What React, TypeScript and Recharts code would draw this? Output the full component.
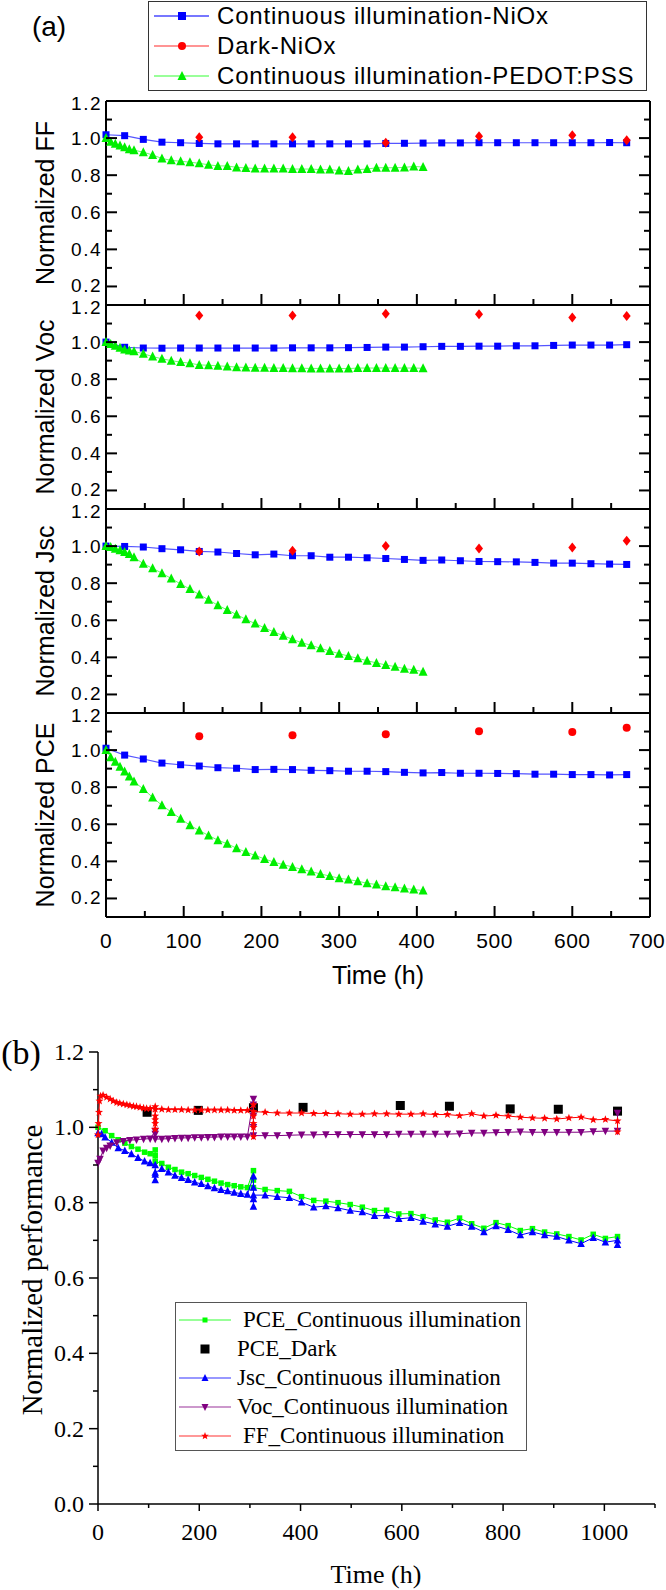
import React from "react";
import { ScatterChart, Scatter, XAxis, YAxis } from "recharts";

// ---------- panel (a) ----------
const niOxTime = [0, 24, 48, 72, 96, 120, 144, 168, 192, 216, 240, 264, 288, 312, 336, 360, 384, 408, 432, 456, 480, 504, 528, 552, 576, 600, 624, 648, 670];
const darkTime = [120, 240, 360, 480, 600, 670];
const pedotTime = [0, 6, 12, 18, 24, 30, 36, 48, 60, 72, 84, 96, 108, 120, 132, 144, 156, 168, 180, 192, 204, 216, 228, 240, 252, 264, 276, 288, 300, 312, 324, 336, 348, 360, 372, 384, 396, 408];

const ffNiOx = [1.018, 1.013, 0.993, 0.978, 0.975, 0.971, 0.969, 0.969, 0.969, 0.969, 0.969, 0.969, 0.969, 0.969, 0.969, 0.971, 0.972, 0.973, 0.974, 0.974, 0.975, 0.975, 0.975, 0.975, 0.975, 0.975, 0.975, 0.976, 0.975];
const vocNiOx = [1.0, 0.972, 0.968, 0.967, 0.968, 0.968, 0.968, 0.968, 0.968, 0.968, 0.969, 0.969, 0.969, 0.97, 0.971, 0.973, 0.973, 0.975, 0.977, 0.977, 0.978, 0.978, 0.98, 0.98, 0.982, 0.984, 0.984, 0.984, 0.986];
const jscNiOx = [1.0, 0.998, 0.995, 0.986, 0.98, 0.971, 0.968, 0.96, 0.953, 0.957, 0.948, 0.948, 0.94, 0.94, 0.937, 0.933, 0.928, 0.923, 0.925, 0.921, 0.917, 0.916, 0.915, 0.912, 0.908, 0.908, 0.905, 0.903, 0.901];
const pceNiOx = [1.01, 0.973, 0.952, 0.93, 0.921, 0.914, 0.905, 0.902, 0.895, 0.896, 0.895, 0.891, 0.889, 0.886, 0.886, 0.884, 0.88, 0.877, 0.879, 0.875, 0.875, 0.874, 0.873, 0.87, 0.87, 0.868, 0.868, 0.866, 0.868];

const ffDark = [1.005, 1.005, 0.975, 1.01, 1.015, 0.988];
const vocDark = [1.144, 1.144, 1.153, 1.15, 1.132, 1.141];
const jscDark = [0.971, 0.975, 1.0, 0.987, 0.993, 1.029];
const pceDark = [1.075, 1.08, 1.086, 1.102, 1.098, 1.12];

const ffPedot = [1.0, 0.98, 0.97, 0.96, 0.95, 0.94, 0.935, 0.924, 0.909, 0.89, 0.88, 0.875, 0.87, 0.864, 0.856, 0.85, 0.85, 0.842, 0.839, 0.836, 0.836, 0.836, 0.836, 0.833, 0.833, 0.833, 0.83, 0.83, 0.825, 0.822, 0.83, 0.833, 0.84, 0.84, 0.84, 0.842, 0.847, 0.844];
const vocPedot = [1.0, 0.99, 0.98, 0.97, 0.96, 0.955, 0.95, 0.937, 0.922, 0.91, 0.9, 0.892, 0.886, 0.877, 0.875, 0.872, 0.869, 0.865, 0.863, 0.862, 0.861, 0.86, 0.86, 0.859, 0.859, 0.858, 0.858, 0.858, 0.858, 0.857, 0.86, 0.86, 0.86, 0.86, 0.86, 0.86, 0.86, 0.859];
const jscPedot = [1.0, 0.995, 0.985, 0.977, 0.968, 0.958, 0.94, 0.905, 0.88, 0.854, 0.825, 0.796, 0.768, 0.739, 0.71, 0.681, 0.656, 0.631, 0.605, 0.582, 0.559, 0.537, 0.517, 0.497, 0.479, 0.465, 0.449, 0.434, 0.42, 0.407, 0.395, 0.382, 0.37, 0.359, 0.35, 0.339, 0.333, 0.323];
const pcePedot = [1.0, 0.962, 0.937, 0.91, 0.884, 0.858, 0.83, 0.79, 0.745, 0.702, 0.666, 0.63, 0.595, 0.566, 0.54, 0.514, 0.495, 0.471, 0.45, 0.432, 0.413, 0.396, 0.382, 0.37, 0.357, 0.345, 0.332, 0.321, 0.309, 0.302, 0.293, 0.282, 0.275, 0.266, 0.261, 0.254, 0.248, 0.243];

const aXTicks = [0, 50, 100, 150, 200, 250, 300, 350, 400, 450, 500, 550, 600, 650, 700];
const aYTicks = [0.2, 0.3, 0.4, 0.5, 0.6, 0.7, 0.8, 0.9, 1.0, 1.1, 1.2];
const panelNames = ["FF", "Voc", "Jsc", "PCE"];

// ---------- panel (b) ----------
const bSpikeTime = [113, 307];
const bEndTime = 1026;
const bMidTime = [126, 139, 152, 165, 178, 191, 204, 217, 230, 243, 256, 269, 282, 295];
const bLateTime = [330, 354, 378, 402, 426, 450, 474, 498, 522, 546, 570, 594, 618, 642, 666, 690, 714, 738, 762, 786, 810, 834, 858, 882, 906, 930, 954, 978, 1002, 1026];

const pceEarlyTime = [0, 14, 27, 40, 53, 66, 79, 92, 103];
const pceEarly = [1.0, 0.991, 0.978, 0.967, 0.958, 0.949, 0.942, 0.934, 0.93];
const pceSpike1 = [0.94, 0.925, 0.91];
const pceMid = [0.904, 0.894, 0.888, 0.881, 0.877, 0.872, 0.867, 0.862, 0.857, 0.852, 0.848, 0.845, 0.842, 0.84];
const pceSpike2 = [0.885, 0.86, 0.84];
const pceLate = [0.835, 0.832, 0.83, 0.816, 0.806, 0.804, 0.8, 0.795, 0.788, 0.779, 0.78, 0.77, 0.771, 0.763, 0.754, 0.748, 0.759, 0.744, 0.732, 0.747, 0.739, 0.726, 0.731, 0.722, 0.717, 0.71, 0.701, 0.716, 0.705, 0.71];
const pceTail: number[] = [];

const jscEarlyTime = [0, 7, 14, 27, 40, 53, 66, 79, 92, 103];
const jscEarly = [0.985, 0.982, 0.974, 0.96, 0.945, 0.938, 0.929, 0.919, 0.91, 0.905];
const jscSpike1 = [0.9, 0.875, 0.86, 0.88];
const jscMid = [0.89, 0.881, 0.872, 0.866, 0.861, 0.854, 0.85, 0.844, 0.839, 0.834, 0.831, 0.827, 0.824, 0.822];
const jscSpike2 = [0.87, 0.84, 0.81, 0.79, 0.82];
const jscLate = [0.82, 0.816, 0.813, 0.801, 0.788, 0.791, 0.786, 0.779, 0.775, 0.765, 0.766, 0.757, 0.76, 0.75, 0.743, 0.737, 0.747, 0.737, 0.722, 0.738, 0.728, 0.714, 0.722, 0.714, 0.71, 0.7, 0.691, 0.707, 0.695, 0.7];
const jscTail = [0.688];

const vocEarlyTime = [0, 4, 10, 17, 24, 37, 50, 63, 76, 90, 103];
const vocEarly = [0.905, 0.916, 0.938, 0.945, 0.951, 0.96, 0.963, 0.966, 0.967, 0.969, 0.97];
const vocSpike1 = [0.99, 0.982, 0.969];
const vocMid = [0.969, 0.97, 0.971, 0.972, 0.972, 0.973, 0.973, 0.974, 0.974, 0.975, 0.975, 0.975, 0.975, 0.975];
const vocSpike2 = [1.075, 1.06, 1.03, 1.0, 0.978];
const vocLate = [0.978, 0.978, 0.979, 0.98, 0.98, 0.981, 0.981, 0.981, 0.981, 0.981, 0.981, 0.982, 0.982, 0.982, 0.982, 0.982, 0.983, 0.985, 0.985, 0.986, 0.987, 0.988, 0.987, 0.987, 0.987, 0.987, 0.987, 0.989, 0.99, 0.99];
const vocTail = [1.038];

const ffEarlyTime = [0, 1, 2, 3, 5, 10, 17, 24, 30, 37, 43, 50, 57, 63, 70, 76, 83, 90, 96, 103];
const ffEarly = [0.98, 1.01, 1.04, 1.07, 1.083, 1.085, 1.08, 1.075, 1.07, 1.066, 1.064, 1.062, 1.06, 1.058, 1.056, 1.055, 1.053, 1.051, 1.05, 1.05];
const ffSpike1 = [1.055, 1.03, 1.01, 0.995, 1.02, 1.048];
const ffMid = [1.048, 1.047, 1.047, 1.047, 1.046, 1.046, 1.046, 1.046, 1.046, 1.046, 1.046, 1.045, 1.045, 1.045];
const ffSpike2 = [1.06, 1.03, 1.0, 0.975, 1.01, 1.042];
const ffLate = [1.04, 1.038, 1.038, 1.038, 1.037, 1.037, 1.036, 1.035, 1.035, 1.036, 1.036, 1.035, 1.035, 1.036, 1.034, 1.034, 1.031, 1.036, 1.03, 1.032, 1.03, 1.027, 1.025, 1.024, 1.022, 1.025, 1.027, 1.02, 1.021, 1.017];
const ffTail = [0.988];

const darkTimeB = [97, 198, 307, 405, 597, 694, 814, 909, 1026];
const pceDarkB = [1.04, 1.045, 1.052, 1.053, 1.058, 1.056, 1.049, 1.048, 1.043];

const bXTicks = [0, 100, 200, 300, 400, 500, 600, 700, 800, 900, 1000, 1100];
const bYTicks = [0, 0.1, 0.2, 0.3, 0.4, 0.5, 0.6, 0.7, 0.8, 0.9, 1.0, 1.1, 1.2];

// ---------- helpers ----------
const SANS = "'Liberation Sans', Arial, sans-serif";
const SERIF = "'Liberation Serif', 'Times New Roman', serif";

type Pt = { t: number; v: number };
const zip = (ts: number[], vs: number[]): Pt[] => ts.map((t, i) => ({ t, v: vs[i] }));

function buildB(earlyT: number[], early: number[], s1: number[], mid: number[], s2: number[], late: number[], tail: number[]): Pt[] {
  return [
    ...zip(earlyT, early),
    ...s1.map((v) => ({ t: bSpikeTime[0], v })),
    ...zip(bMidTime, mid),
    ...s2.map((v) => ({ t: bSpikeTime[1], v })),
    ...zip(bLateTime, late),
    ...tail.map((v) => ({ t: bEndTime, v })),
  ];
}

function starPoints(cx: number, cy: number, r: number) {
  const pts: string[] = [];
  for (let i = 0; i < 10; i++) {
    const rr = i % 2 === 0 ? r : r * 0.42;
    const a = -Math.PI / 2 + (i * Math.PI) / 5;
    pts.push(`${cx + rr * Math.cos(a)},${cy + rr * Math.sin(a)}`);
  }
  return pts.join(" ");
}

function Mark({ kind, cx, cy, size, fill }: { kind: string; cx: number; cy: number; size: number; fill: string }) {
  const h = size / 2;
  if (cx == null || cy == null) return null;
  switch (kind) {
    case "square":
      return <rect x={cx - h} y={cy - h} width={size} height={size} fill={fill} />;
    case "circle":
      return <circle cx={cx} cy={cy} r={h} fill={fill} />;
    case "diamond":
      return <polygon points={`${cx},${cy - h - 1} ${cx + h},${cy} ${cx},${cy + h + 1} ${cx - h},${cy}`} fill={fill} />;
    case "up":
      return <polygon points={`${cx},${cy - h - 1} ${cx + h + 0.5},${cy + h} ${cx - h - 0.5},${cy + h}`} fill={fill} />;
    case "down":
      return <polygon points={`${cx},${cy + h + 1} ${cx + h + 0.5},${cy - h} ${cx - h - 0.5},${cy - h}`} fill={fill} />;
    case "star":
      return <polygon points={starPoints(cx, cy, h + 0.5)} fill={fill} />;
    default:
      return null;
  }
}

const shapeOf = (kind: string, size: number, fill: string) => (p: any) => (
  <Mark kind={kind} cx={p.cx} cy={p.cy} size={size} fill={fill} />
);

function Txt({ x, y, size, family, rotate, children }: any) {
  return (
    <div
      style={{
        position: "absolute",
        left: x,
        top: y,
        transform: `translate(-50%, -50%)${rotate ? " rotate(-90deg)" : ""}`,
        fontSize: size,
        fontFamily: family,
        whiteSpace: "nowrap",
        lineHeight: 1,
        color: "#000",
      }}
    >
      {children}
    </div>
  );
}

// ---------- panel (a) ticks ----------
const isEven = (v: number) => Math.round(v * 10) % 2 === 0;

function LeftTickA(p: any) {
  const v = p.payload.value;
  const major = isEven(v);
  const x0 = p.x + 4;
  // the top and bottom labels sit on the panel joins, nudge them apart
  const shift = v > 1.15 ? 2.5 : v < 0.25 ? -1 : 0;
  return (
    <g>
      <line x1={x0} x2={x0 + (major ? 11 : 6)} y1={p.y} y2={p.y} stroke="#000" strokeWidth={2} />
      {major && (
        <text x={p.x} y={p.y + shift} dy="0.36em" textAnchor="end" fontSize={19} letterSpacing={1.5} fontFamily={SANS} fill="#000">
          {v.toFixed(1)}
        </text>
      )}
    </g>
  );
}

function RightTickA(p: any) {
  const major = isEven(p.payload.value);
  return <line x1={p.x - (major ? 11 : 6)} x2={p.x} y1={p.y} y2={p.y} stroke="#000" strokeWidth={2} />;
}

function BottomTickA(p: any, showLabel: boolean) {
  const v = p.payload.value;
  const major = v % 100 === 0;
  return (
    <g>
      <line x1={p.x} x2={p.x} y1={p.y - (major ? 11 : 6)} y2={p.y} stroke="#000" strokeWidth={2} />
      {showLabel && major && (
        <text x={v === 700 ? p.x - 3 : p.x} y={p.y + 23} dy="0.36em" textAnchor="middle" fontSize={21} letterSpacing={0.5} fontFamily={SANS} fill="#000">
          {v}
        </text>
      )}
    </g>
  );
}

// ---------- panel (b) ticks ----------
function LeftTickB(p: any) {
  const v = p.payload.value;
  const major = isEven(v);
  return (
    <g>
      <line x1={p.x - (major ? 9 : 5)} x2={p.x} y1={p.y} y2={p.y} stroke="#000" strokeWidth={1.5} />
      {major && (
        <text x={p.x - 14} y={p.y} dy="0.34em" textAnchor="end" fontSize={24} fontFamily={SERIF} fill="#000">
          {v.toFixed(1)}
        </text>
      )}
    </g>
  );
}

function BottomTickB(p: any) {
  const v = p.payload.value;
  const major = v % 200 === 0;
  return (
    <g>
      <line x1={p.x} x2={p.x} y1={p.y} y2={p.y + (major ? 7 : 4)} stroke="#000" strokeWidth={1.5} />
      {major && (
        <text x={p.x} y={p.y + 28} dy="0.34em" textAnchor="middle" fontSize={24} fontFamily={SERIF} fill="#000">
          {v}
        </text>
      )}
    </g>
  );
}

const AX = { stroke: "#000", strokeWidth: 2 };
const A_TOP = 101;
const A_H = 204;

function PanelA({ idx, ni, dark, pedot, darkKind }: { idx: number; ni: number[]; dark: number[]; pedot: number[]; darkKind: string }) {
  const last = idx === 3;
  const padTop = 14;
  const xH = last ? 60 : 1;
  const padBottom = last ? 10 : 13;
  const h = padTop + A_H + xH + padBottom;
  const top = A_TOP + idx * A_H - padTop;
  return (
    <div style={{ position: "absolute", left: 0, top }}>
      <ScatterChart width={666} height={h} margin={{ top: padTop - 1, right: 0, bottom: padBottom, left: 0 }}>
        <XAxis
          xAxisId="x"
          dataKey="t"
          type="number"
          domain={[0, 700]}
          ticks={aXTicks}
          interval={0}
          height={xH}
          tickSize={0}
          tickMargin={0}
          tickLine={false}
          axisLine={AX}
          tick={(p: any) => BottomTickA(p, last)}
        />
        <XAxis xAxisId="top" dataKey="t" orientation="top" type="number" domain={[0, 700]} ticks={[0, 700]} height={1} tick={false} tickLine={false} axisLine={AX} />
        <YAxis
          yAxisId="y"
          dataKey="v"
          type="number"
          domain={[0.1, 1.2]}
          ticks={aYTicks}
          interval={0}
          width={106}
          tickSize={0}
          tickMargin={4}
          tickLine={false}
          axisLine={AX}
          tick={LeftTickA}
        />
        <YAxis
          yAxisId="r"
          dataKey="v"
          orientation="right"
          type="number"
          domain={[0.1, 1.2]}
          ticks={aYTicks}
          interval={0}
          width={16}
          tickSize={0}
          tickMargin={0}
          tickLine={false}
          axisLine={AX}
          tick={RightTickA}
        />
        <Scatter
          xAxisId="x"
          yAxisId="y"
          data={zip(niOxTime, ni)}
          fill="#0000ff"
          line={{ stroke: "#5555ff", strokeWidth: 1.2 }}
          shape={shapeOf("square", 7, "#0000ff")}
          isAnimationActive={false}
        />
        <Scatter xAxisId="top" yAxisId="y" data={zip(darkTime, dark)} fill="#ff0000" shape={shapeOf(darkKind, 8, "#ff0000")} isAnimationActive={false} />
        <Scatter
          xAxisId="x"
          yAxisId="r"
          data={zip(pedotTime, pedot)}
          fill="#00ee00"
          line={{ stroke: "#66ff66", strokeWidth: 1 }}
          shape={shapeOf("up", 8, "#00ee00")}
          isAnimationActive={false}
        />
      </ScatterChart>
    </div>
  );
}

const panelSeries = [
  { ni: ffNiOx, dark: ffDark, pedot: ffPedot, darkKind: "diamond" },
  { ni: vocNiOx, dark: vocDark, pedot: vocPedot, darkKind: "diamond" },
  { ni: jscNiOx, dark: jscDark, pedot: jscPedot, darkKind: "diamond" },
  { ni: pceNiOx, dark: pceDark, pedot: pcePedot, darkKind: "circle" },
];

const legendA = [
  { label: "Continuous illumination-NiOx", kind: "square", fill: "#0000ff", line: "#4a4aff" },
  { label: "Dark-NiOx", kind: "circle", fill: "#ff0000", line: "#ff7070" },
  { label: "Continuous illumination-PEDOT:PSS", kind: "up", fill: "#00ee00", line: "#77ff77" },
];

const legendB = [
  { label: "PCE_Continuous illumination", kind: "square", fill: "#00ff00", line: "#33ff33", size: 5, textX: 67 },
  { label: "PCE_Dark", kind: "square", fill: "#000000", line: "", size: 9, textX: 61 },
  { label: "Jsc_Continuous illumination", kind: "up", fill: "#0000ff", line: "#3333ff", size: 6, textX: 61 },
  { label: "Voc_Continuous illumination", kind: "down", fill: "#800080", line: "#993399", size: 6, textX: 61 },
  { label: "FF_Continuous illumination", kind: "star", fill: "#ff0000", line: "#ff3333", size: 7, textX: 67 },
];

const pceB = buildB(pceEarlyTime, pceEarly, pceSpike1, pceMid, pceSpike2, pceLate, pceTail);
const jscB = buildB(jscEarlyTime, jscEarly, jscSpike1, jscMid, jscSpike2, jscLate, jscTail);
const vocB = buildB(vocEarlyTime, vocEarly, vocSpike1, vocMid, vocSpike2, vocLate, vocTail);
const ffB = buildB(ffEarlyTime, ffEarly, ffSpike1, ffMid, ffSpike2, ffLate, ffTail);

export default function App() {
  return (
    <div style={{ position: "absolute", left: 0, top: 0, width: 666, height: 1590, background: "#fff", overflow: "hidden" }}>
      {/* ----- (a) ----- */}
      <Txt x={49} y={27} size={28} family={SANS}>(a)</Txt>
      <div style={{ position: "absolute", left: 148, top: 1, width: 499, height: 90, border: "1.5px solid #333", boxSizing: "border-box" }}>
        {legendA.map((e, i) => (
          <div key={e.label} style={{ position: "absolute", left: 0, top: 14 + i * 30, height: 0 }}>
            <svg width={64} height={20} style={{ position: "absolute", left: 2, top: -10 }}>
              <line x1={3} x2={58} y1={10} y2={10} stroke={e.line} strokeWidth={1.5} />
              <Mark kind={e.kind} cx={31} cy={10} size={8} fill={e.fill} />
            </svg>
            <div style={{ position: "absolute", left: 68, top: -13, fontFamily: SANS, fontSize: 24, letterSpacing: 0.8, whiteSpace: "nowrap", lineHeight: "26px" }}>
              {e.label}
            </div>
          </div>
        ))}
      </div>

      {panelSeries.map((s, i) => (
        <PanelA key={i} idx={i} ni={s.ni} dark={s.dark} pedot={s.pedot} darkKind={s.darkKind} />
      ))}
      {panelNames.map((n, i) => (
        <Txt key={n} x={45} y={A_TOP + i * A_H + A_H / 2} size={25} family={SANS} rotate>
          Normalized {n}
        </Txt>
      ))}
      <Txt x={378} y={975} size={25} family={SANS}>Time (h)</Txt>

      {/* ----- (b) ----- */}
      <Txt x={21} y={1053} size={34} family={SERIF}>(b)</Txt>
      <div style={{ position: "absolute", left: 0, top: 1030 }}>
        <ScatterChart width={666} height={560} margin={{ top: 22, right: 11, bottom: 26, left: 0 }}>
          <XAxis
            xAxisId="x"
            dataKey="t"
            type="number"
            domain={[0, 1100]}
            ticks={bXTicks}
            interval={0}
            height={60}
            tickSize={0}
            tickMargin={0}
            tickLine={false}
            axisLine={{ stroke: "#000", strokeWidth: 1.5 }}
            tick={BottomTickB}
          />
          <YAxis
            yAxisId="y"
            dataKey="v"
            type="number"
            domain={[0, 1.2]}
            ticks={bYTicks}
            interval={0}
            width={98}
            tickSize={0}
            tickMargin={0}
            tickLine={false}
            axisLine={{ stroke: "#000", strokeWidth: 1.5 }}
            tick={LeftTickB}
          />
          <Scatter xAxisId="x" yAxisId="y" data={pceB} fill="#00ff00" line={{ stroke: "#00ff00", strokeWidth: 1 }} shape={shapeOf("square", 5.5, "#00ff00")} isAnimationActive={false} />
          <Scatter xAxisId="x" yAxisId="y" data={zip(darkTimeB, pceDarkB)} fill="#000" shape={shapeOf("square", 9, "#000000")} isAnimationActive={false} />
          <Scatter xAxisId="x" yAxisId="y" data={jscB} fill="#0000ff" line={{ stroke: "#0000ff", strokeWidth: 1 }} shape={shapeOf("up", 6.5, "#0000ff")} isAnimationActive={false} />
          <Scatter xAxisId="x" yAxisId="y" data={vocB} fill="#800080" line={{ stroke: "#800080", strokeWidth: 1 }} shape={shapeOf("down", 6.5, "#800080")} isAnimationActive={false} />
          <Scatter xAxisId="x" yAxisId="y" data={ffB} fill="#ff0000" line={{ stroke: "#ff0000", strokeWidth: 1 }} shape={shapeOf("star", 7.5, "#ff0000")} isAnimationActive={false} />
        </ScatterChart>
      </div>
      <div style={{ position: "absolute", left: 175, top: 1302, width: 352, height: 149, border: "1px solid #555", boxSizing: "border-box", background: "#fff" }}>
        {legendB.map((e, i) => (
          <div key={e.label} style={{ position: "absolute", left: 0, top: 17 + i * 29, height: 0 }}>
            <svg width={60} height={20} style={{ position: "absolute", left: 0, top: -10 }}>
              {e.line && <line x1={3} x2={55} y1={10} y2={10} stroke={e.line} strokeWidth={1.2} />}
              <Mark kind={e.kind} cx={29} cy={10} size={e.size} fill={e.fill} />
            </svg>
            <div style={{ position: "absolute", left: e.textX, top: -13, fontFamily: SERIF, fontSize: 23, whiteSpace: "nowrap", lineHeight: "26px" }}>
              {e.label}
            </div>
          </div>
        ))}
      </div>
      <Txt x={32} y={1270} size={29} family={SERIF} rotate>Normalized performance</Txt>
      <Txt x={376} y={1575} size={26} family={SERIF}>Time (h)</Txt>
    </div>
  );
}
